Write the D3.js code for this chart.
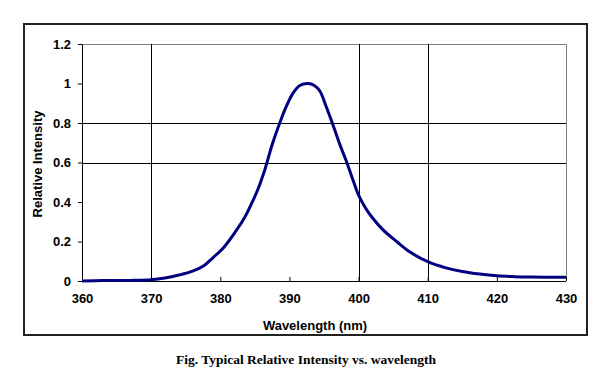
<!DOCTYPE html>
<html>
<head>
<meta charset="utf-8">
<script src="https://cdn.jsdelivr.net/npm/d3@7"></script>
<style>
  body { margin: 0; background: #fff; }
  svg { display: block; }
</style>
</head>
<body>
<div id="chart"></div>
<script>
// spectrum (nm, relative intensity)
var wavelengths = [360, 363, 367, 370, 372, 374, 376, 377.5, 379, 380.5, 382, 383.5, 384.5, 385.5, 386.5,
  387.5, 388.6, 389.5, 390.5, 391.5, 392.7, 393.6, 394.4, 395.3, 396.2, 397.2, 398.3, 399.2, 400,
  401, 402, 403.5, 405.5, 407.5, 410, 412.5, 415, 417.5, 420, 422.5, 425, 430];
var intensity = [0, 0.002, 0.003, 0.006, 0.015, 0.03, 0.05, 0.075, 0.12, 0.17, 0.24, 0.32, 0.39, 0.47, 0.57,
  0.69, 0.80, 0.88, 0.95, 0.99, 1.0, 0.99, 0.962, 0.885, 0.80, 0.70, 0.60, 0.51, 0.435,
  0.37, 0.32, 0.26, 0.20, 0.145, 0.098, 0.068, 0.048, 0.035, 0.026, 0.022, 0.02, 0.019];

var xTicks = [360, 370, 380, 390, 400, 410, 420, 430];
var yTicks = [0, 0.2, 0.4, 0.6, 0.8, 1, 1.2];
// the original only has some grid lines
var gridX = [370, 400, 410];
var gridY = [0.6, 0.8];

var width = 610, height = 387;
var plot = { left: 82, top: 44, right: 566, bottom: 281 };

var svg = d3.select("#chart").append("svg")
  .attr("width", width)
  .attr("height", height);

// outer frame
svg.append("rect")
  .attr("x", 24).attr("y", 24)
  .attr("width", 563).attr("height", 311)
  .attr("fill", "none")
  .attr("stroke", "#222")
  .attr("stroke-width", 2);

var x = d3.scaleLinear().domain([360, 430]).range([plot.left, plot.right]);
var y = d3.scaleLinear().domain([0, 1.2]).range([plot.bottom, plot.top]);

// plot frame, top and right in grey
svg.append("path")
  .attr("d", "M" + plot.left + "," + (plot.top + 0.5) + "H" + (plot.right + 0.5) + "V" + plot.bottom)
  .attr("fill", "none")
  .attr("stroke", "#808080")
  .attr("stroke-width", 1);

// grid lines
svg.selectAll(".gx").data(gridX).enter().append("line")
  .attr("x1", function (d) { return Math.round(x(d)) + 0.5; })
  .attr("x2", function (d) { return Math.round(x(d)) + 0.5; })
  .attr("y1", plot.top).attr("y2", plot.bottom)
  .attr("stroke", "#000").attr("stroke-width", 1);

svg.selectAll(".gy").data(gridY).enter().append("line")
  .attr("y1", function (d) { return Math.round(y(d)) + 0.5; })
  .attr("y2", function (d) { return Math.round(y(d)) + 0.5; })
  .attr("x1", plot.left).attr("x2", plot.right)
  .attr("stroke", "#000").attr("stroke-width", 1);

// x axis, ticks pointing up into the plot
var xAxis = svg.append("g")
  .attr("transform", "translate(0," + plot.bottom + ")")
  .call(d3.axisBottom(x).tickValues(xTicks).tickSize(-4).tickPadding(13).tickFormat(d3.format("d")));

// y axis, ticks pointing out
var yAxis = svg.append("g")
  .attr("transform", "translate(" + plot.left + ",0)")
  .call(d3.axisLeft(y).tickValues(yTicks).tickSize(4).tickPadding(7).tickFormat(d3.format("")));

[xAxis, yAxis].forEach(function (g) {
  g.select(".domain").attr("stroke", "#000");
  g.selectAll(".tick line").attr("stroke", "#000");
  g.selectAll("text")
    .attr("fill", "#000")
    .style("font-family", "'Liberation Sans', Arial, sans-serif")
    .style("font-weight", "bold")
    .style("font-size", "13px");
});
xAxis.select(".domain").attr("d", "M" + plot.left + ",0.5H" + plot.right);

// spectrum
var points = wavelengths.map(function (w, i) { return [w, intensity[i]]; });
var line = d3.line()
  .x(function (d) { return x(d[0]); })
  .y(function (d) { return y(d[1]); })
  .curve(d3.curveCatmullRom.alpha(0.5));

svg.append("path")
  .datum(points)
  .attr("d", line)
  .attr("fill", "none")
  .attr("stroke", "#000080")
  .attr("stroke-width", 3)
  .attr("stroke-linejoin", "round");

// axis titles
svg.append("text")
  .attr("x", 315).attr("y", 330)
  .attr("text-anchor", "middle")
  .style("font-family", "'Liberation Sans', Arial, sans-serif")
  .style("font-weight", "bold")
  .style("font-size", "13px")
  .text("Wavelength (nm)");

svg.append("text")
  .attr("transform", "translate(42,164) rotate(-90)")
  .attr("text-anchor", "middle")
  .style("font-family", "'Liberation Sans', Arial, sans-serif")
  .style("font-weight", "bold")
  .style("font-size", "13px")
  .text("Relative Intensity");

// caption under the frame
svg.append("text")
  .attr("x", 306).attr("y", 364)
  .attr("text-anchor", "middle")
  .style("font-family", "'Liberation Serif', 'Times New Roman', serif")
  .style("font-weight", "bold")
  .style("font-size", "13.5px")
  .text("Fig. Typical Relative Intensity vs. wavelength");
</script>
</body>
</html>
